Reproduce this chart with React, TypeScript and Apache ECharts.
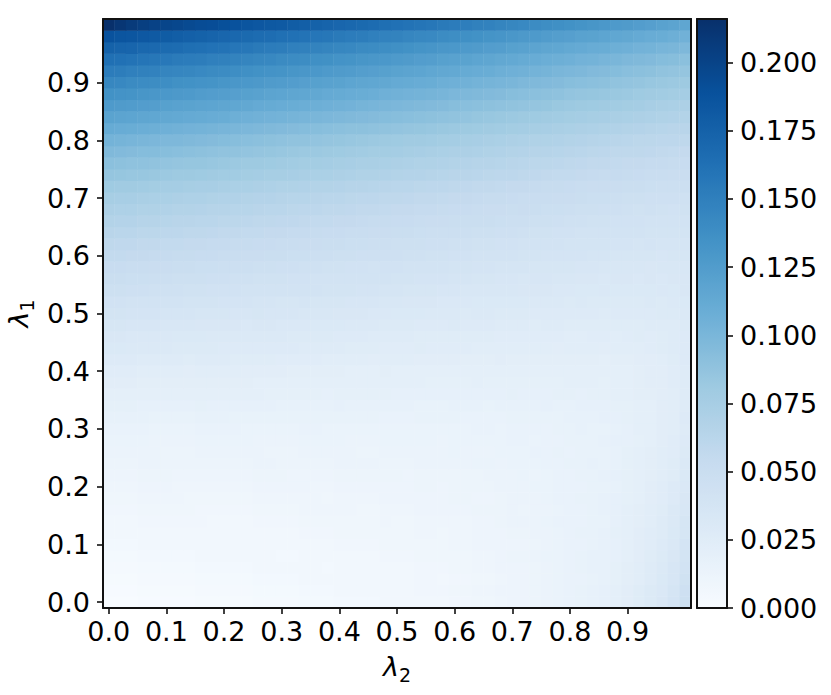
import React, { useEffect, useRef } from "react";
import * as echarts from "echarts";

// lambda values on both axes (cell centres)
const LAMBDA = ["0.00","0.02","0.04","0.06","0.08","0.10","0.12","0.14","0.16","0.18","0.20","0.22","0.24","0.26","0.28","0.30","0.32","0.34","0.36","0.38","0.40","0.42","0.44","0.46","0.48","0.50","0.52","0.54","0.56","0.58","0.60","0.62","0.64","0.66","0.68","0.70","0.72","0.74","0.76","0.78","0.80","0.82","0.84","0.86","0.88","0.90","0.92","0.94","0.96","0.98","1.00"];

// categories that carry a tick and a label
const AXIS_TICKS = ["0.00","0.10","0.20","0.30","0.40","0.50","0.60","0.70","0.80","0.90"];

// colour bar ticks and range
const COLORBAR_TICKS = [0, 0.025, 0.05, 0.075, 0.1, 0.125, 0.15, 0.175, 0.2];
const COLOR_MIN = 0;
const COLOR_MAX = 0.216;

// matplotlib "Blues"
const BLUES = ["#f7fbff","#deebf7","#c6dbef","#9ecae1","#6baed6","#4292c6","#2171b5","#08519c","#08306b"];

// values x 1000; row = lambda1 index (bottom to top), column = lambda2 index (left to right)
const VALUES_X1000: number[][] = [
[0,0,0,1,1,1,1,1,2,2,2,2,2,3,3,3,3,4,4,4,5,5,5,5,6,6,6,7,7,7,8,8,9,9,10,11,11,12,13,14,15,16,17,18,20,23,26,29,33,38,46],
[1,1,1,2,2,2,2,2,3,3,3,3,3,4,4,4,4,5,5,5,6,6,6,6,7,7,7,8,8,8,9,9,10,10,11,11,11,12,13,14,15,16,17,18,20,23,26,29,32,37,45],
[2,2,2,3,3,3,3,3,4,4,4,4,4,5,5,5,5,6,6,6,7,7,7,7,7,7,7,8,8,7,8,8,9,9,10,11,11,12,13,14,15,15,16,17,19,22,24,27,31,35,43],
[3,3,3,4,4,4,4,4,5,5,5,5,5,6,6,6,6,6,6,5,6,6,6,6,7,7,7,8,8,8,9,9,10,10,11,11,11,12,13,14,15,16,17,17,19,22,24,27,30,35,41],
[4,4,4,5,5,5,5,5,6,6,6,6,6,6,6,5,5,6,6,6,7,7,7,7,8,8,8,9,9,9,9,9,10,10,11,12,12,13,14,14,15,16,17,17,18,21,23,26,29,33,39],
[5,5,5,6,6,6,6,6,7,7,7,7,6,6,6,6,6,7,7,7,8,8,8,8,9,9,9,9,9,9,10,10,11,11,11,11,11,12,13,14,15,15,16,17,18,21,23,25,28,32,38],
[6,6,6,7,7,7,7,7,7,7,6,6,6,7,7,7,7,8,8,8,9,9,9,9,9,9,9,10,10,9,10,10,11,11,11,12,12,13,13,14,15,16,16,17,19,21,23,25,27,31,36],
[7,7,7,8,8,8,8,8,8,7,7,7,7,8,8,8,8,9,9,9,9,9,9,9,10,9,9,10,10,10,10,10,11,11,12,13,13,13,14,15,15,15,16,16,18,20,22,24,27,30,36],
[8,8,8,9,9,9,9,9,8,8,8,8,8,9,9,9,9,10,10,10,10,10,9,9,10,10,10,11,11,11,11,11,12,12,12,13,12,13,13,14,15,15,16,17,18,20,22,24,26,30,34],
[9,9,9,10,10,10,10,9,9,9,9,9,9,10,10,10,10,10,10,9,10,10,10,10,11,11,11,11,11,11,12,12,11,11,12,13,13,13,14,15,15,16,16,17,18,19,21,23,25,28,33],
[10,10,10,11,11,11,10,10,10,10,10,10,10,11,11,11,11,11,10,10,11,11,11,11,11,11,11,12,12,11,12,12,12,12,13,13,13,14,14,15,15,15,16,16,17,19,21,23,25,28,32],
[11,11,11,12,12,12,11,11,11,11,11,11,11,12,12,12,11,11,11,11,12,12,12,12,12,12,11,12,12,12,12,12,12,13,13,13,14,13,14,15,15,16,16,17,18,19,21,22,24,26,31],
[12,12,12,13,13,12,12,12,12,12,12,12,12,13,13,12,12,12,12,12,13,13,13,13,12,12,12,13,13,13,13,13,14,14,13,14,14,14,15,15,16,16,17,16,17,19,20,22,24,26,30],
[13,13,13,13,13,12,12,12,13,13,13,13,13,13,12,12,12,13,13,13,13,13,12,12,13,13,13,13,13,13,14,13,13,13,14,14,14,15,15,16,15,16,16,16,17,19,20,22,24,25,29],
[14,14,14,14,13,13,13,13,14,14,14,14,14,13,13,13,13,14,14,14,14,13,13,13,14,14,14,14,14,13,14,14,14,14,14,15,15,14,15,15,16,16,16,17,18,18,19,21,23,25,28],
[15,15,15,15,14,14,14,14,15,15,15,15,14,14,14,14,14,15,15,14,14,14,14,14,14,14,14,14,14,14,14,14,15,15,14,15,15,15,15,16,16,17,16,16,17,18,20,21,23,24,27],
[17,17,17,17,16,16,16,16,17,17,17,16,16,16,16,16,16,16,16,16,16,16,16,16,15,15,15,16,16,16,16,15,15,15,15,16,16,16,16,16,17,17,17,18,18,19,20,21,23,24,28],
[19,19,19,18,18,18,18,18,19,18,18,18,18,18,18,17,17,17,17,17,18,17,17,17,17,17,17,16,16,16,17,17,17,16,17,17,17,17,18,17,17,18,18,18,19,19,20,21,23,24,27],
[21,21,21,20,20,20,20,20,21,20,20,20,20,20,19,19,19,19,19,18,19,19,19,19,19,18,18,18,18,18,18,18,18,18,18,19,18,18,18,19,19,18,19,19,20,21,22,22,23,24,27],
[23,23,23,22,22,22,22,22,22,22,22,22,22,21,21,21,21,21,20,20,21,21,21,20,20,20,20,20,19,19,19,19,20,19,19,19,19,19,19,19,20,20,20,19,20,21,22,23,23,25,27],
[25,25,25,24,24,24,24,23,24,24,24,24,23,23,23,23,22,22,22,22,22,21,21,21,22,21,21,21,21,21,20,20,21,21,21,20,20,20,21,20,20,20,21,21,21,21,22,23,23,25,27],
[28,28,28,27,27,27,27,26,27,27,27,26,26,26,26,25,25,25,25,24,24,24,24,23,24,24,24,23,23,23,23,22,22,22,23,22,22,22,22,22,22,22,22,21,22,22,23,23,24,26,28],
[31,31,30,30,30,30,29,29,29,29,28,28,28,28,28,28,28,27,27,27,27,26,26,26,25,25,25,26,25,25,25,25,24,24,24,24,24,24,24,23,24,24,24,23,24,24,24,25,26,27,28],
[33,33,32,32,32,32,31,31,31,30,30,30,30,30,30,30,29,29,29,29,28,28,28,27,27,27,27,26,26,26,26,26,26,26,25,25,25,25,25,25,24,24,25,25,24,25,26,25,26,27,28],
[36,36,35,35,35,34,34,34,33,33,33,33,32,33,33,32,32,32,31,31,31,30,30,30,29,29,29,28,28,28,29,28,28,28,27,27,27,26,27,27,26,26,26,26,26,26,26,27,27,27,29],
[39,39,38,38,38,37,37,37,36,36,36,35,35,36,35,35,35,34,34,34,33,33,33,32,32,31,31,31,30,30,30,29,30,30,29,29,29,28,28,28,28,28,28,27,28,28,28,28,29,29,30],
[42,42,41,41,41,40,40,39,39,39,38,38,38,37,37,36,36,37,36,36,36,35,35,35,34,34,33,33,33,32,32,32,31,31,31,31,31,30,30,30,29,30,29,29,29,29,29,30,29,30,31],
[46,46,45,45,44,44,44,43,43,42,42,42,41,41,40,40,40,40,40,39,39,39,38,38,37,37,36,36,36,35,35,34,34,34,34,34,33,33,33,32,32,31,31,32,31,31,31,31,32,31,33],
[49,49,48,48,47,47,46,46,46,45,45,44,44,43,43,43,42,42,41,41,41,41,41,40,40,39,39,38,38,38,37,37,36,36,35,35,34,35,35,34,34,33,33,32,33,33,32,33,32,33,33],
[52,52,51,51,50,50,49,49,48,48,47,47,47,46,46,45,45,44,44,43,43,42,42,41,42,42,41,41,40,40,39,39,38,38,37,37,37,36,36,36,36,35,35,34,34,34,34,33,34,34,34],
[56,56,55,55,54,54,53,53,52,52,51,51,50,50,49,49,48,48,47,47,46,46,45,45,45,45,44,44,43,43,42,42,41,41,40,40,39,39,38,38,38,38,37,37,36,36,36,36,35,36,36],
[59,58,58,57,57,56,56,55,55,54,54,53,53,52,52,51,51,50,50,49,49,48,48,47,47,46,46,46,45,45,44,44,43,43,42,42,41,41,40,40,39,39,39,39,38,38,37,38,37,37,37],
[63,62,62,61,61,60,60,59,59,58,57,57,56,56,55,55,54,54,53,52,52,51,51,50,50,49,49,48,47,47,47,47,46,46,45,45,44,43,43,42,42,41,41,40,41,40,40,39,39,39,39],
[67,66,66,65,65,64,63,63,62,62,61,61,60,59,59,58,58,57,56,56,55,55,54,53,53,52,52,51,50,50,49,49,49,49,48,47,47,46,46,45,44,44,43,43,42,42,42,41,41,41,41],
[71,70,70,69,69,68,67,67,66,65,65,64,64,63,62,62,61,60,60,59,59,58,57,57,56,55,55,54,54,53,52,52,51,50,50,49,50,49,48,48,47,46,46,45,45,44,43,44,43,42,43],
[75,74,74,73,72,72,71,70,70,69,68,68,67,66,66,65,64,64,63,62,62,61,60,60,59,59,58,57,57,56,55,55,54,53,53,52,51,51,51,50,50,49,48,48,47,46,46,45,45,45,44],
[80,79,79,78,77,76,76,75,74,74,73,72,72,71,70,69,69,68,67,67,66,65,65,64,63,62,62,61,60,60,59,58,57,57,56,55,55,54,53,53,52,51,50,50,50,49,49,48,47,47,47],
[86,85,84,84,83,82,81,81,80,79,78,78,77,76,75,75,74,73,72,72,71,70,69,69,68,67,66,66,65,64,63,63,62,61,60,60,59,58,57,56,56,55,54,53,54,53,52,51,51,50,50],
[91,90,89,89,88,87,86,85,85,84,83,82,81,81,80,79,78,77,77,76,75,74,73,73,72,71,70,69,69,68,67,66,65,65,64,63,62,61,61,60,59,58,57,57,56,55,55,54,54,53,52],
[97,96,95,94,94,93,92,91,90,89,88,88,87,86,85,84,83,82,82,81,80,79,78,77,77,76,75,74,73,72,71,71,70,69,68,67,66,65,65,64,63,62,61,60,59,59,59,58,57,56,55],
[103,102,101,100,99,98,98,97,96,95,94,93,92,91,90,89,88,88,87,86,85,84,83,82,81,80,79,79,78,77,76,75,74,73,72,71,70,69,69,68,67,66,65,64,63,62,61,61,60,60,59],
[111,110,109,108,107,106,105,104,103,102,101,100,99,98,97,96,95,94,93,92,91,90,90,89,88,87,86,85,84,83,82,81,80,79,78,77,76,75,74,73,72,71,70,69,68,67,66,65,64,63,63],
[119,118,117,116,115,114,113,112,111,110,109,107,106,105,104,103,102,101,100,99,98,97,96,95,94,93,92,91,90,89,88,87,85,84,83,82,81,80,79,78,77,76,75,74,73,72,71,70,69,68,67],
[127,126,125,124,123,121,120,119,118,117,116,115,114,112,111,110,109,108,107,106,105,104,102,101,100,99,98,97,96,95,93,92,91,90,89,88,87,86,85,83,82,81,80,79,78,77,76,74,73,72,71],
[135,134,133,131,130,129,128,127,125,124,123,122,121,120,118,117,116,115,114,112,111,110,109,108,106,105,104,103,102,101,99,98,97,96,95,93,92,91,90,89,87,86,85,84,83,82,80,79,78,77,76],
[144,143,141,140,139,138,136,135,134,133,131,130,129,128,126,125,124,122,121,120,119,117,116,115,114,112,111,110,109,107,106,105,103,102,101,100,98,97,96,95,93,92,91,90,88,87,86,84,83,82,81],
[153,152,150,149,148,146,145,144,142,141,140,138,137,135,134,133,131,130,129,127,126,125,123,122,121,119,118,117,115,114,113,111,110,109,107,106,105,103,102,100,99,98,96,95,94,92,91,90,88,87,86],
[163,162,160,159,157,156,154,153,152,150,149,147,146,144,143,141,140,139,137,136,134,133,131,130,129,127,126,124,123,121,120,119,117,116,114,113,111,110,108,107,106,104,103,101,100,98,97,96,94,93,91],
[175,173,172,170,169,167,166,164,163,161,160,158,157,155,153,152,150,149,147,146,144,143,141,140,138,137,135,133,132,130,129,127,126,124,123,121,120,118,116,115,113,112,110,109,107,106,104,103,101,100,98],
[188,186,185,183,181,180,178,176,175,173,171,170,168,166,165,163,162,160,158,157,155,153,152,150,148,147,145,143,142,140,138,137,135,133,132,130,128,127,125,123,122,120,119,117,115,114,112,110,109,107,105],
[216,211,207,204,201,199,197,195,193,192,190,188,186,184,182,181,179,177,175,173,171,170,168,166,164,162,160,159,157,155,153,151,149,148,146,144,142,140,138,137,135,133,131,129,127,126,124,122,120,118,116],
];

const FONT = "DejaVu Sans";

export default function App() {
  const ref = useRef<HTMLDivElement>(null);

  useEffect(() => {
    if (!ref.current) return;
    const chart = echarts.init(ref.current, null, { renderer: "svg" });

    const data: [number, number, number][] = [];
    VALUES_X1000.forEach((row, yi) => {
      row.forEach((v, xi) => {
        data.push([xi, yi, v / 1000]);
      });
    });

    const labelStyle = { fontFamily: FONT, fontSize: 27, color: "#000" };
    const frame = { color: "#111", width: 2 };
    const tickLine = { color: "#111", width: 1.6 };
    const isTick = (_i: number, v: string) => AXIS_TICKS.includes(v);
    const rich = {
      l: { fontFamily: FONT, fontStyle: "italic", fontSize: 27, color: "#000", lineHeight: 36, verticalAlign: "middle" },
      s: { fontFamily: FONT, fontSize: 19, color: "#000", lineHeight: 18, verticalAlign: "bottom" },
    };
    const frameAxis = (extra: any) => ({
      z: 10,
      axisLine: { show: true, onZero: false, lineStyle: frame },
      axisTick: { show: false },
      axisLabel: { show: false },
      splitLine: { show: false },
      ...extra,
    });

    chart.setOption({
      animation: false,
      grid: [
        { left: 103, top: 19, width: 588, height: 589, containLabel: false, outerBoundsMode: "none" },
        { left: 697, top: 19, width: 30, height: 589, containLabel: false, outerBoundsMode: "none" },
      ],
      xAxis: [
        {
          type: "category",
          data: LAMBDA,
          gridIndex: 0,
          position: "bottom",
          z: 10,
          axisLine: { show: true, onZero: false, lineStyle: frame },
          axisTick: { show: true, alignWithLabel: true, interval: isTick, length: 6, lineStyle: tickLine },
          axisLabel: {
            interval: isTick,
            formatter: (v: string) => Number(v).toFixed(1),
            margin: 10,
            ...labelStyle,
          },
          splitLine: { show: false },
          name: "{l|λ}{s|2}",
          nameLocation: "middle",
          nameGap: 40,
          nameTextStyle: { rich },
        },
        frameAxis({ type: "category", data: LAMBDA, gridIndex: 0, position: "top" }),
        frameAxis({ type: "value", min: 0, max: 1, gridIndex: 1, position: "bottom" }),
        frameAxis({ type: "value", min: 0, max: 1, gridIndex: 1, position: "top" }),
      ],
      yAxis: [
        {
          type: "category",
          data: LAMBDA,
          gridIndex: 0,
          position: "left",
          z: 10,
          axisLine: { show: true, onZero: false, lineStyle: frame },
          axisTick: { show: true, alignWithLabel: true, interval: isTick, length: 6, lineStyle: tickLine },
          axisLabel: {
            interval: isTick,
            formatter: (v: string) => Number(v).toFixed(1),
            margin: 13,
            ...labelStyle,
          },
          splitLine: { show: false },
          name: "{l|λ}{s|1}",
          nameLocation: "middle",
          nameGap: 55,
          nameTextStyle: { rich },
        },
        frameAxis({ type: "category", data: LAMBDA, gridIndex: 0, position: "right" }),
        {
          type: "value",
          gridIndex: 1,
          min: COLOR_MIN,
          max: COLOR_MAX,
          position: "right",
          z: 10,
          axisLine: { show: true, onZero: false, lineStyle: frame },
          axisTick: { show: true, length: 6, lineStyle: tickLine, customValues: COLORBAR_TICKS },
          axisLabel: {
            customValues: COLORBAR_TICKS,
            formatter: (v: number) => v.toFixed(3),
            margin: 13,
            ...labelStyle,
          },
          splitLine: { show: false },
        },
        frameAxis({ type: "value", min: COLOR_MIN, max: COLOR_MAX, gridIndex: 1, position: "left" }),
      ],
      visualMap: {
        type: "continuous",
        min: COLOR_MIN,
        max: COLOR_MAX,
        seriesIndex: 0,
        orient: "vertical",
        left: 697,
        top: 19,
        itemWidth: 30,
        itemHeight: 589,
        padding: 0,
        calculable: false,
        hoverLink: false,
        inRange: { color: BLUES },
      },
      series: [
        {
          type: "heatmap",
          xAxisIndex: 0,
          yAxisIndex: 0,
          data,
          itemStyle: { borderWidth: 0 },
          emphasis: { disabled: true },
        },
      ],
    });

    return () => chart.dispose();
  }, []);

  return (
    <div
      ref={ref}
      style={{ position: "fixed", left: 0, top: 0, width: 831, height: 695, background: "#fff" }}
    />
  );
}
